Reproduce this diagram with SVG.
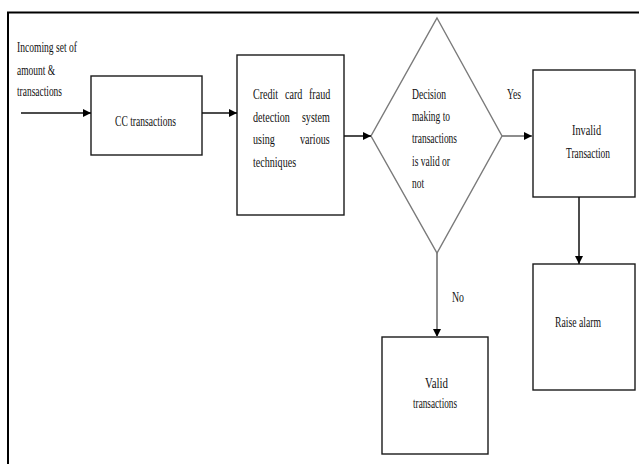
<svg xmlns="http://www.w3.org/2000/svg" width="639" height="464" viewBox="0 0 639 464">
<style>
.box{fill:#fff;stroke:#1a1a1a;stroke-width:1.4}
.dia{fill:#fff;stroke:#7a7a7a;stroke-width:1.4}
.t{font-family:"Liberation Serif","Times New Roman",serif;font-size:14px;fill:#111}
.c{stroke:#111;stroke-width:1.5;fill:none}
.g{stroke:#808080;stroke-width:1.8;fill:none}
</style>
<defs>
<marker id="ah" markerUnits="userSpaceOnUse" markerWidth="9" markerHeight="9" refX="8" refY="4" orient="auto">
<path d="M0,0 L8,4 L0,8 z" fill="#000"/>
</marker>
</defs>
<rect width="639" height="464" fill="#fff"/>
<path d="M8,464 V12.5 H639" fill="none" stroke="#000" stroke-width="2"/>

<g id="input-label">
<text class="t" x="17" y="52" textLength="60" lengthAdjust="spacingAndGlyphs">Incoming set of</text>
<text class="t" x="17" y="75" textLength="38" lengthAdjust="spacingAndGlyphs">amount &amp;</text>
<text class="t" x="17" y="96" textLength="45" lengthAdjust="spacingAndGlyphs">transactions</text>
</g>

<g id="cc">
<rect class="box" x="91" y="76" width="111" height="79"/>
<text class="t" x="115" y="126" textLength="61" lengthAdjust="spacingAndGlyphs">CC transactions</text>
</g>

<g id="fraud-system">
<rect class="box" x="237" y="55" width="107" height="160"/>
<text class="t" transform="translate(253,99) scale(0.72,1)"><tspan x="0">Credit</tspan><tspan x="44.4">card</tspan><tspan x="77.8">fraud</tspan></text>
<text class="t" transform="translate(253,122) scale(0.72,1)"><tspan x="0">detection</tspan><tspan x="68">system</tspan></text>
<text class="t" transform="translate(253,144) scale(0.72,1)"><tspan x="0">using</tspan><tspan x="65.3">various</tspan></text>
<text class="t" transform="translate(253,167) scale(0.72,1)">techniques</text>
</g>

<g id="decision">
<polygon class="dia" points="437,18 502,136 437,253 371,136"/>
<text class="t" x="412" y="99" textLength="34" lengthAdjust="spacingAndGlyphs">Decision</text>
<text class="t" x="412" y="121" textLength="38" lengthAdjust="spacingAndGlyphs">making to</text>
<text class="t" x="412" y="143" textLength="45" lengthAdjust="spacingAndGlyphs">transactions</text>
<text class="t" x="412" y="166" textLength="38" lengthAdjust="spacingAndGlyphs">is valid or</text>
<text class="t" x="412" y="188" textLength="12" lengthAdjust="spacingAndGlyphs">not</text>
</g>

<g id="invalid">
<rect class="box" x="533" y="70" width="102" height="127"/>
<text class="t" x="572" y="135" textLength="29" lengthAdjust="spacingAndGlyphs">Invalid</text>
<text class="t" x="566" y="158" textLength="44" lengthAdjust="spacingAndGlyphs">Transaction</text>
</g>

<g id="alarm">
<rect class="box" x="533" y="264" width="102" height="126"/>
<text class="t" x="555" y="327" textLength="46" lengthAdjust="spacingAndGlyphs">Raise alarm</text>
</g>

<g id="valid">
<rect class="box" x="382" y="337" width="106" height="117"/>
<text class="t" x="425" y="388" textLength="23" lengthAdjust="spacingAndGlyphs">Valid</text>
<text class="t" x="413" y="408" textLength="44" lengthAdjust="spacingAndGlyphs">transactions</text>
</g>

<g id="connectors">
<line class="c" x1="21" y1="113" x2="91" y2="113" marker-end="url(#ah)"/>
<line class="c" x1="202" y1="113" x2="237" y2="113" marker-end="url(#ah)"/>
<line class="c" x1="344" y1="136" x2="371" y2="136" marker-end="url(#ah)"/>
<line class="g" x1="502" y1="136" x2="532" y2="136" marker-end="url(#ah)"/>
<line class="c" x1="579" y1="197" x2="579" y2="264" marker-end="url(#ah)"/>
<line class="g" x1="437" y1="253" x2="437" y2="337" marker-end="url(#ah)"/>
<text class="t" x="507" y="99" textLength="14" lengthAdjust="spacingAndGlyphs">Yes</text>
<text class="t" x="452" y="302" textLength="12" lengthAdjust="spacingAndGlyphs">No</text>
</g>
</svg>
